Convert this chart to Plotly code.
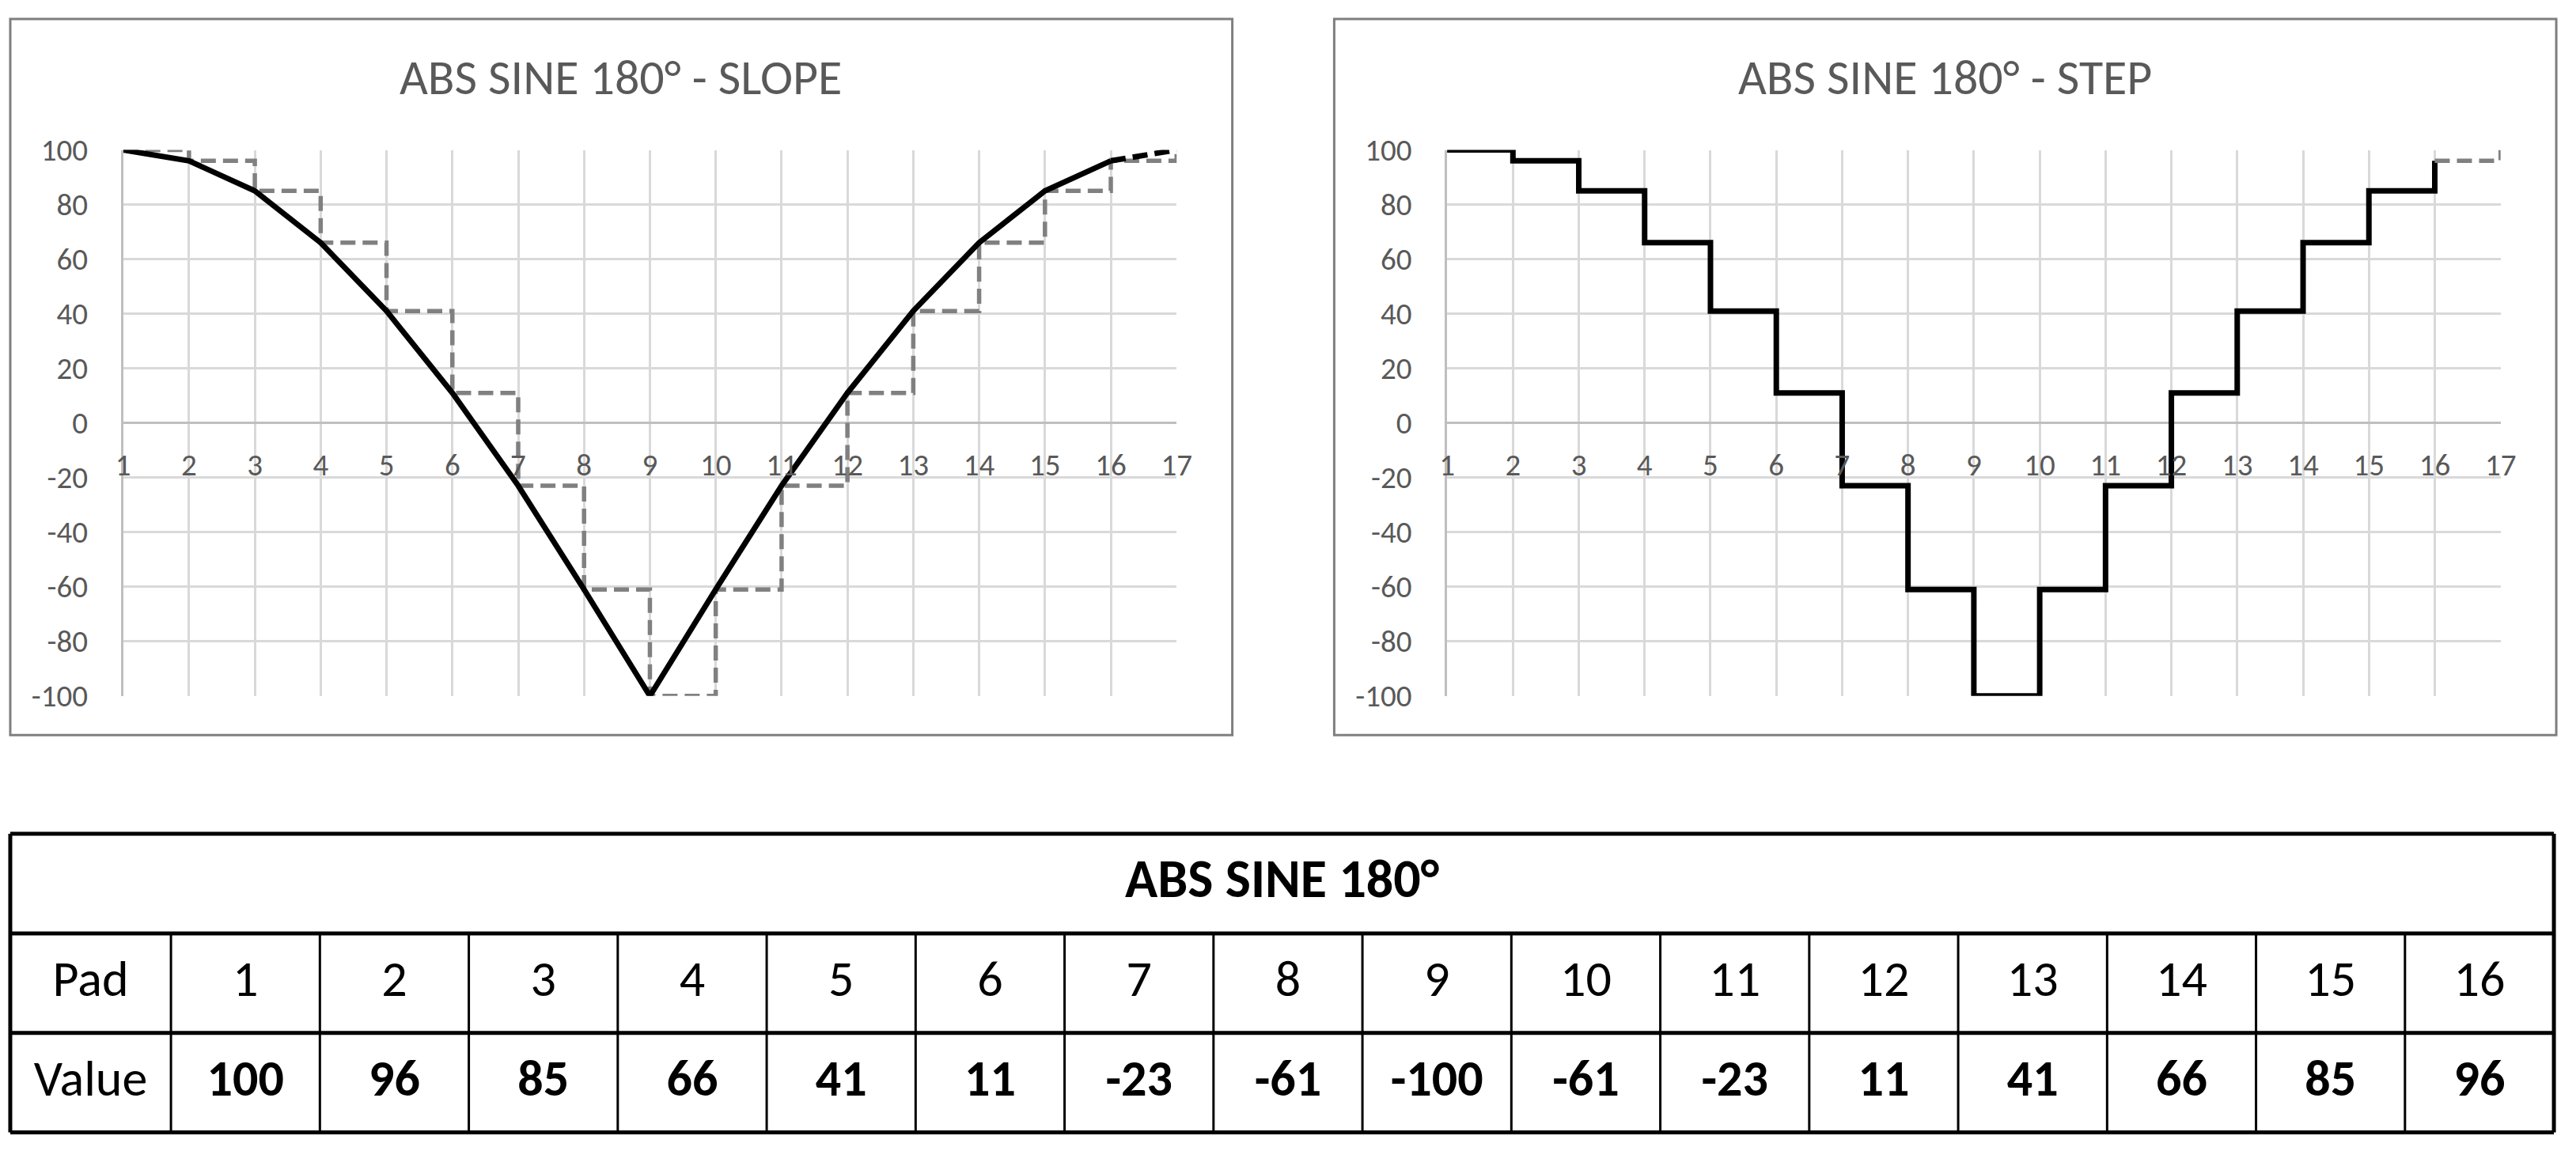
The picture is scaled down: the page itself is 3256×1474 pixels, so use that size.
import plotly.graph_objects as go

# ---------------- data ----------------
pads = [1, 2, 3, 4, 5, 6, 7, 8, 9, 10, 11, 12, 13, 14, 15, 16]
values = [100, 96, 85, 66, 41, 11, -23, -61, -100, -61, -23, 11, 41, 66, 85, 96]
x_ticks = list(range(1, 18))
y_ticks = list(range(-100, 101, 20))
title_left = "ABS SINE 180° - SLOPE"
title_right = "ABS SINE 180° - STEP"
table_title = "ABS SINE 180°"
row_labels = ["Pad", "Value"]

# wrap point (pad 17 returns to pad 1)
x_wrap = pads + [pads[-1] + 1]
y_wrap = values + [values[0]]

W, H = 3256, 1474
FONT = "Carlito, Calibri, 'Liberation Sans Narrow', 'DejaVu Sans Condensed', sans-serif"
GREY_TXT = "#595959"
GRID = "#d9d9d9"
AXL = "#bfbfbf"
DASH_GREY = "#808080"
DASH = "19px,9px"

def px(x):
    return x / W

def py(y):
    return 1 - y / H

fig = go.Figure()

# ---------- left chart: slope ----------
fig.add_trace(go.Scatter(x=x_wrap, y=y_wrap, mode="lines", line=dict(shape="hv", color=DASH_GREY, width=5.5, dash=DASH),
                         xaxis="x", yaxis="y", showlegend=False, hoverinfo="skip"))
fig.add_trace(go.Scatter(x=pads, y=values, mode="lines", line=dict(color="black", width=7),
                         xaxis="x", yaxis="y", showlegend=False))
fig.add_trace(go.Scatter(x=x_wrap[-2:], y=y_wrap[-2:], mode="lines", line=dict(color="black", width=7, dash=DASH),
                         xaxis="x", yaxis="y", showlegend=False))

# ---------- right chart: step ----------
fig.add_trace(go.Scatter(x=pads, y=values, mode="lines", line=dict(shape="hv", color="black", width=7),
                         xaxis="x2", yaxis="y2", showlegend=False))
fig.add_trace(go.Scatter(x=x_wrap[-2:], y=y_wrap[-2:], mode="lines", line=dict(shape="hv", color=DASH_GREY, width=5.5, dash=DASH),
                         xaxis="x2", yaxis="y2", showlegend=False))

ydom = [py(885), py(172)]
xdom1 = [px(147), px(1491)]
xdom2 = [px(1836), px(3180)]
xpos = (ydom[0] + ydom[1]) / 2

def xaxis_cfg(dom):
    return dict(domain=dom, range=[1, 17], tickvals=x_ticks, ticktext=[str(v) for v in x_ticks],
                showgrid=True, gridcolor=GRID, gridwidth=2.5, zeroline=False, showline=False,
                anchor="free", position=xpos,
                tickfont=dict(family=FONT, size=39, color=GREY_TXT), ticks="", ticklabelstandoff=26,
                fixedrange=True)

def yaxis_cfg(xname):
    return dict(domain=ydom, range=[-100, 100], tickvals=y_ticks, ticktext=[str(v) for v in y_ticks],
                showgrid=True, gridcolor=GRID, gridwidth=2.5, zeroline=True, zerolinecolor=AXL, zerolinewidth=2.5,
                showline=True, linecolor=AXL, linewidth=2.5, anchor=xname,
                tickfont=dict(family=FONT, size=39, color=GREY_TXT), ticks="", ticklabelstandoff=34,
                fixedrange=True)

# ---------- table ----------
tab_top, tab_h1, tab_h2, tab_bot = 1065, 1195, 1325, 1455
tab_left, tab_right = 3, 3248
first_col_right = 208
col_w = (tab_right - first_col_right) / len(pads)
col_centers = [first_col_right + col_w * (i + 0.5) for i in range(len(pads))]
row_pad_y = (tab_h1 + tab_h2) / 2
row_val_y = (tab_h2 + tab_bot) / 2

fig.add_trace(go.Scatter(x=col_centers, y=[row_pad_y] * len(pads), mode="text", text=[str(p) for p in pads],
                         textfont=dict(family=FONT, size=64, color="black"), xaxis="x3", yaxis="y3",
                         showlegend=False, hoverinfo="skip"))
fig.add_trace(go.Scatter(x=col_centers, y=[row_val_y] * len(values), mode="text", text=[str(v) for v in values],
                         textfont=dict(family=FONT, size=64, color="black", weight="bold"), xaxis="x3", yaxis="y3",
                         showlegend=False, hoverinfo="skip"))
fig.add_trace(go.Scatter(x=[(tab_left + first_col_right) / 2] * 2, y=[row_pad_y, row_val_y], mode="text",
                         text=row_labels, textfont=dict(family=FONT, size=64, color="black"),
                         xaxis="x3", yaxis="y3", showlegend=False, hoverinfo="skip"))
fig.add_trace(go.Scatter(x=[(tab_left + tab_right) / 2], y=[(tab_top + tab_h1) / 2], mode="text",
                         text=[table_title], textfont=dict(family=FONT, size=68, color="black", weight="bold"),
                         xaxis="x3", yaxis="y3", showlegend=False, hoverinfo="skip"))

shapes = []
# chart borders
for (x0, x1) in [(3, 1562), (1692, 3251)]:
    shapes.append(dict(type="rect", xref="paper", yref="paper", x0=px(x0), x1=px(x1), y0=py(936), y1=py(1),
                       line=dict(color="#7f7f7f", width=3), fillcolor="rgba(0,0,0,0)", layer="below"))
# table lines
for yy in [tab_top, tab_h1, tab_h2, tab_bot]:
    shapes.append(dict(type="line", xref="x3", yref="y3", x0=tab_left, x1=tab_right, y0=yy, y1=yy,
                       line=dict(color="black", width=5)))
for xx in [tab_left, tab_right]:
    shapes.append(dict(type="line", xref="x3", yref="y3", x0=xx, x1=xx, y0=tab_top, y1=tab_bot,
                       line=dict(color="black", width=5)))
for k in range(len(pads)):
    xx = first_col_right + col_w * k
    shapes.append(dict(type="line", xref="x3", yref="y3", x0=xx, x1=xx, y0=tab_h1, y1=tab_bot,
                       line=dict(color="black", width=3)))

annotations = [
    dict(text=title_left, xref="paper", yref="paper", x=px(782), y=py(77), showarrow=False,
         xanchor="center", yanchor="middle", font=dict(family=FONT, size=62, color=GREY_TXT)),
    dict(text=title_right, xref="paper", yref="paper", x=px(2471), y=py(77), showarrow=False,
         xanchor="center", yanchor="middle", font=dict(family=FONT, size=62, color=GREY_TXT)),
]

fig.update_layout(
    width=W, height=H, margin=dict(l=0, r=0, t=0, b=0),
    paper_bgcolor="white", plot_bgcolor="rgba(0,0,0,0)",
    xaxis=xaxis_cfg(xdom1), yaxis=yaxis_cfg("x"),
    xaxis2=xaxis_cfg(xdom2), yaxis2=yaxis_cfg("x2"),
    xaxis3=dict(domain=[0, 1], range=[0, W], visible=False, fixedrange=True),
    yaxis3=dict(domain=[0, py(1040)], range=[H, 1040], visible=False, fixedrange=True, anchor="x3"),
    shapes=shapes, annotations=annotations, showlegend=False,
)

fig.write_html("out.html", config={"displayModeBar": False, "responsive": False},
               post_script="document.body.style.margin='0';document.body.style.overflow='hidden';")
